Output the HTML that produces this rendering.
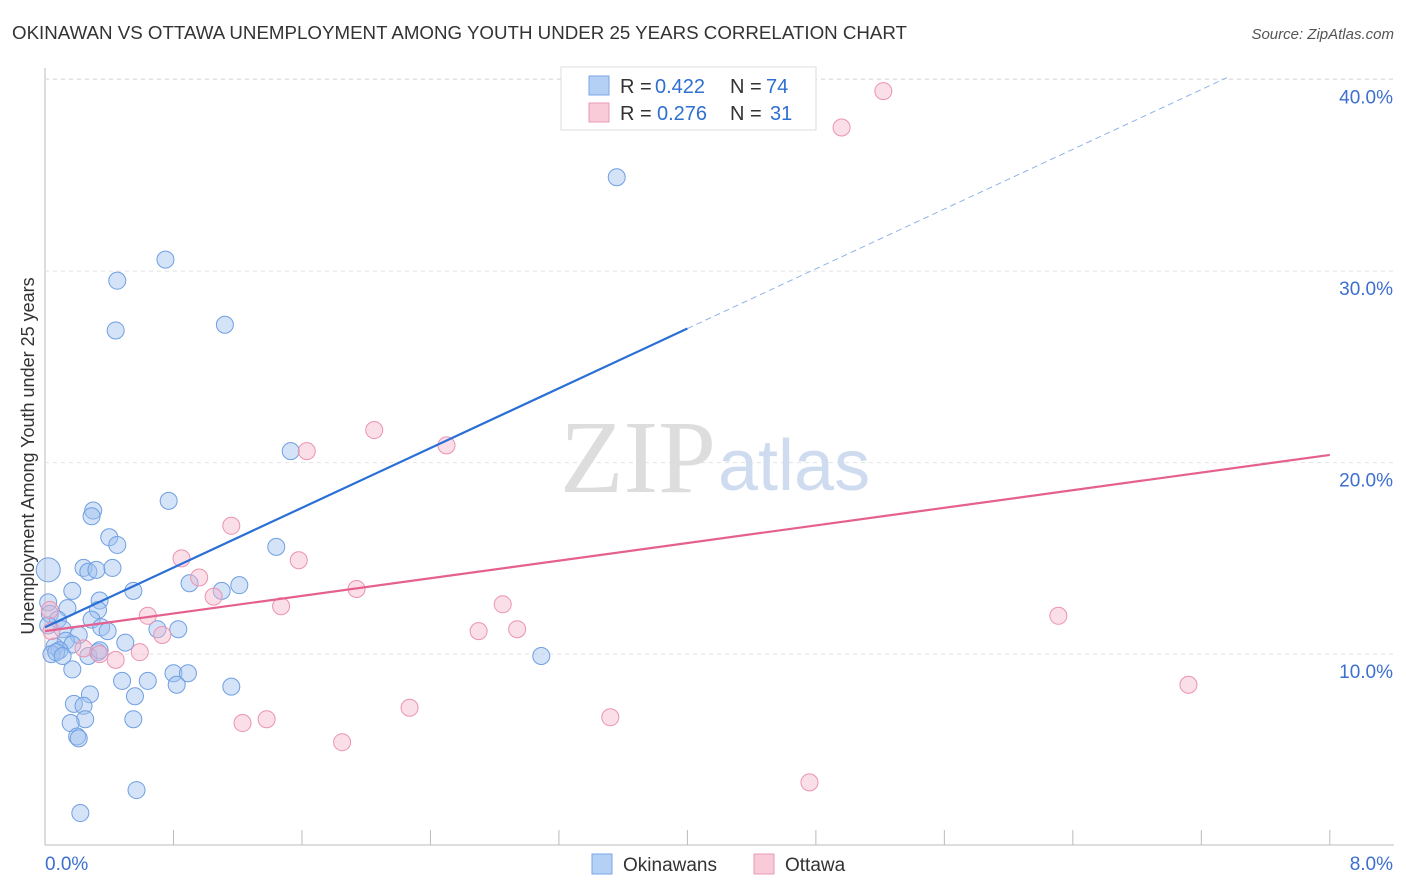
<!DOCTYPE html>
<html><head><meta charset="utf-8">
<style>
body{margin:0;background:#fff;font-family:"Liberation Sans",sans-serif;}
svg{display:block}
</style></head>
<body>
<svg id="chart" width="1406" height="892">
<text x="12" y="39" font-size="18" fill="#333" textLength="895" lengthAdjust="spacingAndGlyphs">OKINAWAN VS OTTAWA UNEMPLOYMENT AMONG YOUTH UNDER 25 YEARS CORRELATION CHART</text>
<text x="1394" y="39" font-size="15" fill="#555" font-style="italic" text-anchor="end">Source: ZipAtlas.com</text>
<text x="34" y="456" font-size="18" fill="#333" text-anchor="middle" transform="rotate(-90 34 456)">Unemployment Among Youth under 25 years</text>
<g id="grid"></g>
<text x="716" y="492" font-size="104" font-family="Liberation Serif,serif" fill="#ddd" text-anchor="end">ZIP</text>
<text x="718" y="490" font-size="72" fill="#cfdcf0">atlas</text>
<g id="marks"></g>
<g>
<rect x="561" y="67" width="255" height="63" fill="#fff" stroke="#ddd"/>
<rect x="589" y="76" width="20" height="19" fill="#b5d0f5" stroke="#7aa6e6"/>
<text x="620" y="93" font-size="20" fill="#333">R =</text>
<text x="655" y="93" font-size="20" fill="#2f6fd0">0.422</text>
<text x="730" y="93" font-size="20" fill="#333">N =</text>
<text x="766" y="93" font-size="20" fill="#2f6fd0">74</text>
<rect x="589" y="103" width="20" height="19" fill="#f9cad8" stroke="#eb9ab5"/>
<text x="620" y="120" font-size="20" fill="#333">R =</text>
<text x="657" y="120" font-size="20" fill="#2f6fd0">0.276</text>
<text x="730" y="120" font-size="20" fill="#333">N =</text>
<text x="770" y="120" font-size="20" fill="#2f6fd0">31</text>
</g>
<g>
<rect x="592" y="854" width="20" height="20" fill="#b5d0f5" stroke="#7aa6e6"/>
<text x="623" y="871" font-size="19" fill="#333">Okinawans</text>
<rect x="754" y="854" width="20" height="20" fill="#f9cad8" stroke="#eb9ab5"/>
<text x="785" y="871" font-size="19" fill="#333">Ottawa</text>
</g>
</svg>
<script>
const yTicks=[10,20,30,40];
const xTickLabels=["0.0%","8.0%"];
const blueX=[3.56,0.75,0.45,0.44,1.12,1.53,0.77,0.30,0.29,0.40,0.45,1.44,0.02,0.24,0.27,0.32,0.42,0.17,0.55,0.90,1.10,1.21,0.02,0.14,0.34,0.33,0.03,0.08,0.29,0.35,0.39,0.11,0.02,0.21,0.13,0.17,0.06,0.09,0.04,0.07,0.11,0.33,0.27,0.50,0.70,0.83,0.17,0.80,0.89,0.48,0.64,0.82,1.16,0.28,0.56,0.18,0.24,0.25,0.16,0.55,0.20,0.21,0.57,0.22,3.09,0.34];
const blueY=[34.9,30.6,29.5,26.9,27.2,20.6,18.0,17.5,17.2,16.1,15.7,15.6,14.4,14.5,14.3,14.4,14.5,13.3,13.3,13.7,13.3,13.6,12.7,12.4,12.8,12.3,12.1,11.8,11.8,11.4,11.2,11.3,11.5,11.0,10.7,10.5,10.4,10.2,10.0,10.1,9.9,10.1,9.9,10.6,11.3,11.3,9.2,9.0,9.0,8.6,8.6,8.4,8.3,7.9,7.8,7.4,7.3,6.6,6.4,6.6,5.7,5.6,2.9,1.7,9.9,10.2];
const pinkX=[5.22,4.96,2.05,2.50,1.63,1.16,0.85,1.58,0.96,1.94,1.05,1.47,0.64,2.85,6.31,2.70,2.94,0.73,0.03,0.04,0.24,0.34,0.44,0.59,2.27,1.23,1.38,1.85,3.52,7.12,4.76];
const pinkY=[39.4,37.5,21.7,20.9,20.6,16.7,15.0,14.9,14.0,13.4,13.0,12.5,12.0,12.6,12.0,11.2,11.3,11.0,12.3,11.2,10.3,10.0,9.7,10.1,7.2,6.4,6.6,5.4,6.7,8.4,3.3];
const blueTrend=[11.4,0.0,3.9];
const pinkTrend=[11.2,0.0,1.15];
const X=v=>45+v*160.6, Y=v=>845.6-v*19.15;
const NS="http://www.w3.org/2000/svg";
function mk(t,a,p){const e=document.createElementNS(NS,t);for(const k in a)e.setAttribute(k,a[k]);p.appendChild(e);return e;}
const g=document.getElementById('grid'), m=document.getElementById('marks');
let ax=mk('line',{x1:45,y1:845,x2:1394,y2:845,stroke:'#bbb'},g);


let ay=mk('line',{x1:45,y1:68,x2:45,y2:845,stroke:'#bbb'},g);


for(let i=0;i<=10;i++){let t=mk('line',{x1:X(i*0.8),x2:X(i*0.8),y1:830,y2:845,stroke:'#bbb'},g);

}
yTicks.forEach(v=>{let l=mk('line',{x1:45,x2:1394,y1:Y(v),y2:Y(v),stroke:'#e2e2e2','stroke-dasharray':'4,4'},g);


let t=mk('text',{x:1393,y:Y(v)+24,'font-size':19,fill:'#3d6fd0','text-anchor':'end'},g);t.textContent=v.toFixed(1)+'%';

});
let gl=mk('line',{x1:45,x2:1394,y1:79,y2:79,stroke:'#e2e2e2','stroke-dasharray':'4,4'},g);


xTickLabels.forEach((s,i)=>{let t=mk('text',{x:i?1393:45,y:870,'font-size':19,fill:'#3d6fd0','text-anchor':i?'end':'start'},g);t.textContent=s;

});
blueX.forEach((v,i)=>{let c=mk('circle',{cx:X(v),cy:Y(blueY[i]),r:(i==12?12:8.5),fill:'rgba(160,194,240,0.45)',stroke:'#6f9fe2','stroke-width':1},m);

});
pinkX.forEach((v,i)=>{let c=mk('circle',{cx:X(v),cy:Y(pinkY[i]),r:8.5,fill:'rgba(246,184,204,0.45)',stroke:'#eb93b0','stroke-width':1},m);

});
const bY=x=>blueTrend[0]+blueTrend[2]*x;
let b1=mk('line',{x1:X(0),y1:Y(bY(0)),x2:X(4),y2:Y(bY(4)),stroke:'#2a6fd6','stroke-width':2.2},m);


const xe=(40.1-blueTrend[0])/blueTrend[2];
let b2=mk('line',{x1:X(4),y1:Y(bY(4)),x2:X(xe),y2:Y(bY(xe)),stroke:'#8fb3e8','stroke-width':1,'stroke-dasharray':'6,4'},m);


const pY=x=>pinkTrend[0]+pinkTrend[2]*x;
let p1=mk('line',{x1:X(0),y1:Y(pY(0)),x2:X(8),y2:Y(pY(8)),stroke:'#e5608f','stroke-width':2.2},m);


</script>
</body></html>
